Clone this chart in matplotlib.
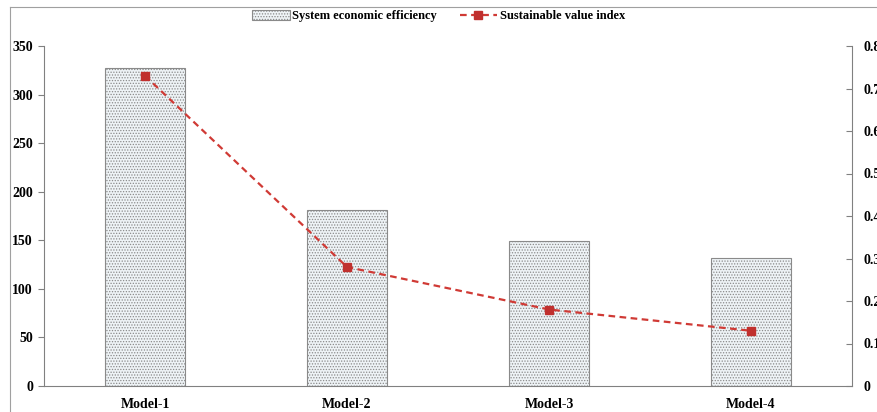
import numpy as np
import matplotlib
matplotlib.use("Agg")
import matplotlib.pyplot as plt
from matplotlib.lines import Line2D

# data
models = ["Model-1", "Model-2", "Model-3", "Model-4"]
efficiency = [327, 181, 149, 132]
value_index = [0.73, 0.28, 0.18, 0.13]

plt.rcParams['font.family'] = ['Liberation Serif', 'DejaVu Serif']
plt.rcParams['font.weight'] = 'bold'
plt.rcParams['hatch.color'] = '#bcc6cd'
plt.rcParams['hatch.linewidth'] = 0.6

fig = plt.figure(figsize=(8.77, 4.12), dpi=100)
ax = fig.add_axes([44/877, 1-386/412, (852-44)/877, (386-46)/412])
x = np.arange(len(models))

bars = ax.bar(x, efficiency, width=0.4, color='#eef3f6', edgecolor='#8a8a8a',
              linewidth=0.8, hatch='......', label='System economic efficiency')
ax.set_xlim(-0.5, 3.5)
ax.set_ylim(0, 350)
ax.set_yticks(range(0, 351, 50))
ax.set_xticks(x)
ax.set_xticklabels(models, fontsize=10, fontweight='bold')
ax.tick_params(axis='x', length=0, pad=9)
ax.tick_params(axis='y', length=4, color='#808080', labelsize=10, pad=4)
for s in ['top', 'right']:
    ax.spines[s].set_visible(False)
for s in ['left', 'bottom']:
    ax.spines[s].set_color('#808080')

ax2 = ax.twinx()
ax2.plot(x, value_index, color='#d03a35', linestyle='--', linewidth=1.6,
         marker='s', markersize=6, markerfacecolor='#c0302e', markeredgecolor='#c0302e',
         dashes=(3, 2), label='Sustainable value index')
ax2.set_ylim(0, 0.8)
ax2.set_yticks(np.arange(0, 0.81, 0.1))
ax2.set_yticklabels(['0'] + ['%.1f' % v for v in np.arange(0.1, 0.81, 0.1)])
ax2.tick_params(axis='y', direction='in', length=4, color='#808080', labelsize=10, pad=8)
for s in ['top', 'left', 'bottom']:
    ax2.spines[s].set_visible(False)
ax2.spines['right'].set_color('#808080')

h1, l1 = ax.get_legend_handles_labels()
h2, l2 = ax2.get_legend_handles_labels()
fig.legend(h1 + h2, l1 + l2, loc='center', bbox_to_anchor=(0.5, 1-16/412), ncol=2,
           frameon=False, fontsize=9, handlelength=3, handleheight=0.8, columnspacing=1.8,
           handletextpad=0.2)

# chart-area border remnants
fig.add_artist(Line2D([10/877, 10/877], [0, 1-7/412], color='#a0a0a0', linewidth=0.8))
fig.add_artist(Line2D([10/877, 1], [1-7/412, 1-7/412], color='#a0a0a0', linewidth=0.8))

fig.savefig("out.png", dpi=100)
